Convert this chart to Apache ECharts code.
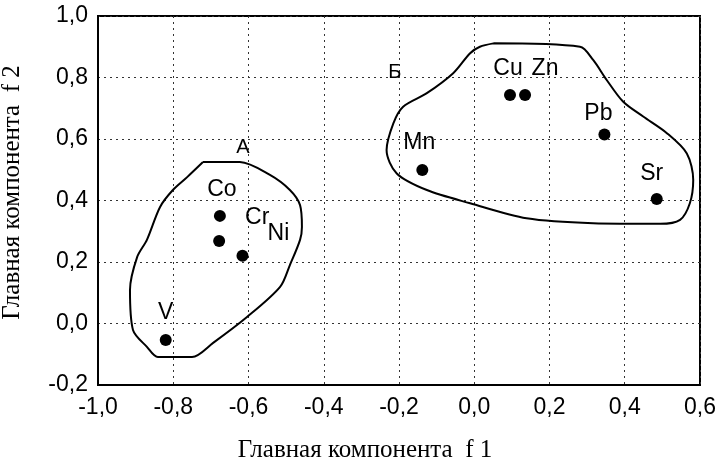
<!DOCTYPE html>
<html><head><meta charset="utf-8">
<script src="https://cdn.jsdelivr.net/npm/echarts@6/dist/echarts.min.js"></script>
<style>html,body{margin:0;padding:0;background:#fff}#c{width:719px;height:467px}</style>
</head><body><div id="c"></div>
<script>
// ---- data ----
const pointNames = ['V', 'Co', 'Cr', 'Ni', 'Mn', 'Cu', 'Zn', 'Pb', 'Sr'];
const pointX = [-0.82, -0.676, -0.678, -0.616, -0.138, 0.095, 0.135, 0.346, 0.485];
const pointY = [-0.054, 0.35, 0.268, 0.22, 0.499, 0.743, 0.743, 0.615, 0.405];

const xTicks = [-1.0, -0.8, -0.6, -0.4, -0.2, 0.0, 0.2, 0.4, 0.6];
const yTicks = [-0.2, 0.0, 0.2, 0.4, 0.6, 0.8, 1.0];

const regionNames = ['A', 'Б'];
const regionLabelX = [-0.615, -0.211];
const regionLabelY = [0.571, 0.815];

const outlineA = [
  [-0.721,0.525],[-0.623,0.525],[-0.543,0.483],[-0.490,0.434],[-0.463,0.385],[-0.458,0.314],
  [-0.463,0.272],[-0.490,0.190],[-0.516,0.119],[-0.604,0.021],[-0.694,-0.063],[-0.750,-0.109],
  [-0.841,-0.109],[-0.870,-0.076],[-0.907,-0.021],[-0.915,0.109],[-0.896,0.216],[-0.870,0.272],
  [-0.835,0.379],[-0.801,0.434],[-0.763,0.476],[-0.721,0.525]
];
const outlineB = [
  [0.051,0.911],[0.281,0.900],[0.316,0.857],[0.352,0.792],[0.396,0.721],[0.449,0.673],
  [0.512,0.619],[0.565,0.553],[0.582,0.467],[0.573,0.391],[0.547,0.337],[0.494,0.324],
  [0.316,0.326],[0.139,0.342],[-0.011,0.391],[-0.126,0.434],[-0.206,0.488],[-0.233,0.564],
  [-0.215,0.651],[-0.189,0.705],[-0.126,0.749],[-0.056,0.814],[-0.011,0.879],[0.015,0.900],[0.051,0.911]
];

// ---- style (label offsets in px) ----
const labelOffsets = {V:[0,-27], Co:[2,-26], Cr:[38,-23], Ni:[36,-22], Mn:[-3,-27], Cu:[-2,-26], Zn:[20,-26], Pb:[-6,-21], Sr:[-5,-25]};

const fmt = v => v.toFixed(1).replace('.', ',');
const sans = '"Liberation Sans", Arial, sans-serif';
const serif = '"Liberation Serif", "Times New Roman", serif';

const chart = echarts.init(document.getElementById('c'), null, {renderer: 'canvas'});
chart.setOption({
  animation: false,
  backgroundColor: '#fff',
  grid: {left: 98, top: 16, width: 602, height: 369, containLabel: false, outerBoundsMode: 'none',
         show: true, borderColor: '#000', borderWidth: 2, backgroundColor: 'transparent'},
  xAxis: {
    type: 'value', min: xTicks[0], max: xTicks[xTicks.length - 1], interval: 0.2,
    name: 'Главная компонента  f 1', nameLocation: 'middle', nameGap: 53,
    nameTextStyle: {fontFamily: serif, fontSize: 25, color: '#000', padding: [0, 68, 0, 0]},
    axisLine: {show: true, onZero: false, lineStyle: {color: '#000', width: 2}},
    axisTick: {show: false},
    axisLabel: {formatter: fmt, fontFamily: sans, fontSize: 23, color: '#000', margin: 11},
    splitLine: {show: true, lineStyle: {color: '#333', type: [2, 4], width: 1}}
  },
  yAxis: {
    type: 'value', min: yTicks[0], max: yTicks[yTicks.length - 1], interval: 0.2,
    name: 'Главная компонента  f 2', nameLocation: 'middle', nameGap: 73,
    nameTextStyle: {fontFamily: serif, fontSize: 25, color: '#000', padding: [0, 0, 0, 16]},
    axisLine: {show: true, onZero: false, lineStyle: {color: '#000', width: 2}},
    axisTick: {show: false},
    axisLabel: {formatter: fmt, fontFamily: sans, fontSize: 23, color: '#000', margin: 10},
    splitLine: {show: true, lineStyle: {color: '#333', type: [2, 4], width: 1}}
  },
  series: [
    {type: 'line', data: outlineA, showSymbol: false, symbol: 'none', smooth: 0.3,
     lineStyle: {color: '#000', width: 2}, z: 3},
    {type: 'line', data: outlineB, showSymbol: false, symbol: 'none', smooth: 0.3,
     lineStyle: {color: '#000', width: 2}, z: 3},
    {type: 'scatter', symbolSize: 12, itemStyle: {color: '#000', opacity: 1}, z: 5,
     data: pointNames.map((n, i) => ({value: [pointX[i], pointY[i]], name: n,
       label: {show: true, formatter: n, position: 'inside', offset: labelOffsets[n],
         fontFamily: sans, fontSize: 23, color: '#000'}}))},
    {type: 'scatter', symbolSize: 1, itemStyle: {color: 'rgba(0,0,0,0)', opacity: 1}, z: 5,
     data: regionNames.map((n, i) => ({value: [regionLabelX[i], regionLabelY[i]], name: n,
       label: {show: true, formatter: n, position: 'inside', fontFamily: sans, fontSize: 20, color: '#000'}}))}
  ]
});
</script></body></html>
